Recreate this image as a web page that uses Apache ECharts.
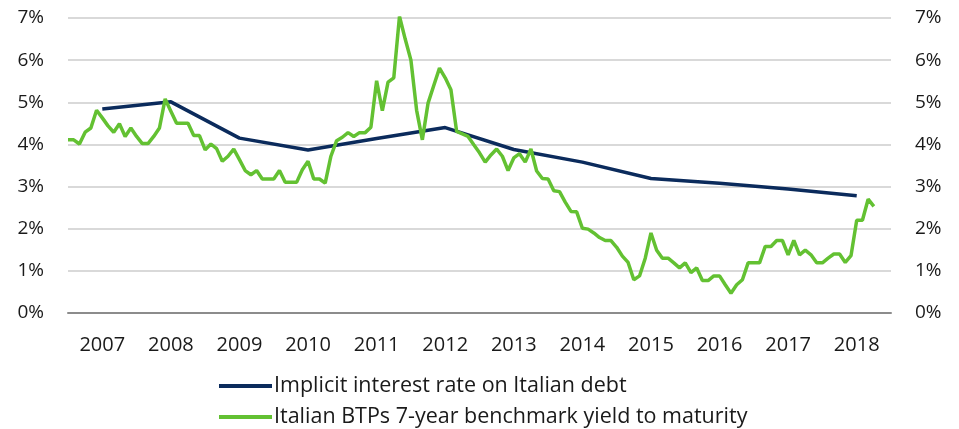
<!DOCTYPE html>
<html>
<head>
<meta charset="utf-8">
<style>
  html, body { margin: 0; padding: 0; background: #fff; }
  #chart { width: 959px; height: 429px; }
</style>
<script src="https://cdn.jsdelivr.net/npm/echarts@6/dist/echarts.min.js"></script>
</head>
<body>
<div id="chart"></div>
<script>
// years on the axis
const years = ['2007', '2008', '2009', '2010', '2011', '2012', '2013', '2014', '2015', '2016', '2017', '2018'];

// implicit interest rate, one value per year (plotted mid-year)
const implicitRate = [4.84, 5.01, 4.15, 3.87, 4.14, 4.40, 3.88, 3.58, 3.19, 3.08, 2.94, 2.78];

// BTP 7y yield, monthly from Jan 2007
const btpYield = [
  4.11, 4.11, 4.01, 4.29, 4.39, 4.81, 4.63, 4.44, 4.29, 4.49, 4.19, 4.39,
  4.19, 4.02, 4.02, 4.19, 4.39, 5.08, 4.79, 4.50, 4.50, 4.50, 4.21, 4.21,
  3.87, 4.01, 3.90, 3.60, 3.72, 3.89, 3.64, 3.38, 3.28, 3.38, 3.18, 3.18,
  3.18, 3.38, 3.10, 3.10, 3.10, 3.40, 3.60, 3.18, 3.18, 3.08, 3.72, 4.09,
  4.17, 4.28, 4.19, 4.28, 4.28, 4.41, 5.51, 4.80, 5.48, 5.58, 7.04, 6.50,
  6.00, 4.81, 4.11, 4.98, 5.40, 5.81, 5.58, 5.30, 4.31, 4.25, 4.19, 3.99,
  3.80, 3.58, 3.75, 3.89, 3.72, 3.38, 3.68, 3.78, 3.58, 3.89, 3.37, 3.19,
  3.18, 2.90, 2.88, 2.63, 2.41, 2.40, 2.01, 1.99, 1.90, 1.79, 1.72, 1.72,
  1.56, 1.35, 1.20, 0.79, 0.88, 1.30, 1.90, 1.49, 1.30, 1.30, 1.19, 1.07,
  1.19, 0.96, 1.07, 0.77, 0.77, 0.88, 0.88, 0.67, 0.47, 0.67, 0.79, 1.19,
  1.19, 1.19, 1.58, 1.58, 1.72, 1.72, 1.38, 1.72, 1.38, 1.49, 1.38, 1.19,
  1.19, 1.30, 1.40, 1.40, 1.20, 1.36, 2.20, 2.20, 2.70, 2.53
];

const yTicks = [0, 1, 2, 3, 4, 5, 6, 7];

const seriesNames = [
  'Implicit interest rate on Italian debt',
  'Italian BTPs 7-year benchmark yield to maturity'
];

const font = '"Open Sans", "Noto Sans", sans-serif';

// months since Jan 2007
const implicitData = implicitRate.map((v, i) => [i * 12 + 6, v]);
const btpData = btpYield.map((v, i) => [i, v]);

const yAxisBase = {
  type: 'value',
  min: yTicks[0],
  max: yTicks[yTicks.length - 1],
  interval: 1,
  axisLine: { show: false },
  axisTick: { show: false },
  axisLabel: {
    formatter: '{value}%',
    color: '#1a1a1a',
    fontFamily: font,
    fontSize: 19,
    margin: 24
  }
};

const legendBase = {
  left: 219,
  itemWidth: 53,
  itemHeight: 4,
  icon: 'rect',
  padding: 0,
  textStyle: { color: '#1a1a1a', fontFamily: font, fontSize: 21.5, padding: [0, 0, 0, -3] }
};

const chart = echarts.init(document.getElementById('chart'), null, { renderer: 'canvas' });

chart.setOption({
  animation: false,
  grid: { left: 68, right: 68, top: 18, bottom: 116, containLabel: false },
  xAxis: [
    {
      type: 'category',
      data: years,
      boundaryGap: true,
      axisLine: { lineStyle: { color: '#8c8c8c', width: 2 } },
      axisTick: { length: 7, lineStyle: { color: '#8c8c8c', width: 2 } },
      axisLabel: { color: '#1a1a1a', fontFamily: font, fontSize: 20, margin: 22 },
      splitLine: { show: false }
    },
    {
      type: 'value',
      min: 0,
      max: years.length * 12,
      show: false
    }
  ],
  yAxis: [
    Object.assign({}, yAxisBase, {
      position: 'left',
      splitLine: { lineStyle: { color: '#d9d9d9', width: 2 } }
    }),
    Object.assign({}, yAxisBase, {
      position: 'right',
      splitLine: { show: false }
    })
  ],
  legend: [
    Object.assign({}, legendBase, { top: 375, data: [seriesNames[0]] }),
    Object.assign({}, legendBase, { top: 406, data: [seriesNames[1]] })
  ],
  series: [
    {
      name: seriesNames[0],
      type: 'line',
      xAxisIndex: 1,
      yAxisIndex: 0,
      data: implicitData,
      showSymbol: false,
      color: '#0b2b5c',
      lineStyle: { width: 3.5, color: '#0b2b5c' }
    },
    {
      name: seriesNames[1],
      type: 'line',
      xAxisIndex: 1,
      yAxisIndex: 1,
      data: btpData,
      showSymbol: false,
      color: '#63c132',
      lineStyle: { width: 3.5, color: '#63c132' }
    }
  ]
});

window.addEventListener('resize', () => chart.resize());
</script>
</body>
</html>
